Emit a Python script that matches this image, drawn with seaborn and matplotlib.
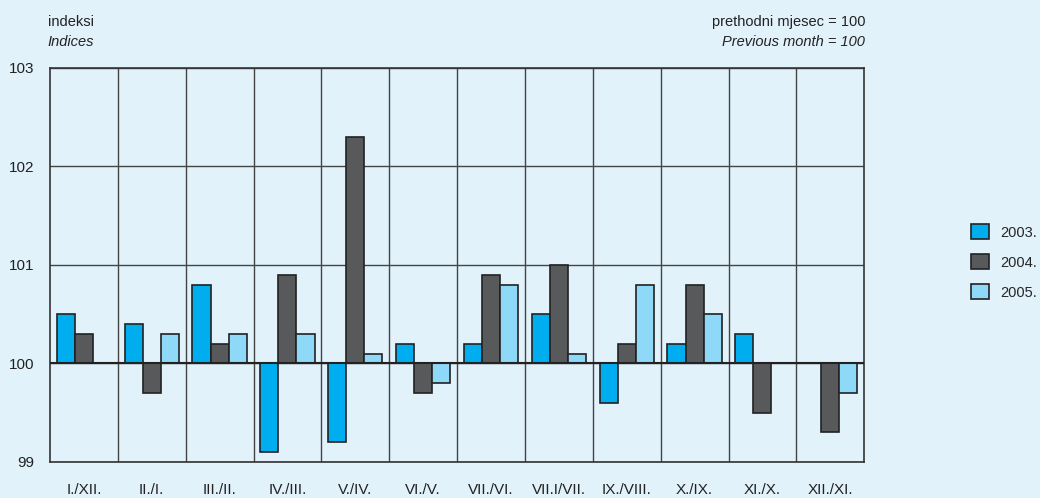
import numpy as np
import pandas as pd
import matplotlib
matplotlib.use("Agg")
import matplotlib.pyplot as plt
import seaborn as sns

months = ["I./XII.", "II./I.", "III./II.", "IV./III.", "V./IV.", "VI./V.",
          "VII./VI.", "VII.I/VII.", "IX./VIII.", "X./IX.", "XI./X.", "XII./XI."]
years = ["2003.", "2004.", "2005."]
idx_2003 = [100.5, 100.4, 100.8, 99.1, 99.2, 100.2, 100.2, 100.5, 99.6, 100.2, 100.3, np.nan]
idx_2004 = [100.3, 99.7, 100.2, 100.9, 102.3, 99.7, 100.9, 101.0, 100.2, 100.8, 99.5, 99.3]
idx_2005 = [np.nan, 100.3, 100.3, 100.3, 100.1, 99.8, 100.8, 100.1, 100.8, 100.5, np.nan, 99.7]
colors = ["#00aeef", "#58595b", "#8ed8f8"]
bg = "#e1f2fb"

df = pd.DataFrame({"month": months * 3,
                   "year": np.repeat(years, len(months)),
                   "index": idx_2003 + idx_2004 + idx_2005})
df["dev"] = df["index"] - 100  # bars start at 100

sns.set_style("white")
plt.rcParams["font.family"] = ["Liberation Sans", "DejaVu Sans"]

fig = plt.figure(figsize=(10.4, 4.98), dpi=100, facecolor=bg)
ax = fig.add_axes([0.048, 0.0723, 0.783, 0.7912])
ax.set_facecolor(bg)

sns.barplot(data=df, x="month", y="dev", hue="year", palette=colors, saturation=1,
            edgecolor="#222222", linewidth=1.2, width=0.8, ax=ax, zorder=3)

ax.set_ylim(-1, 3)
ax.set_xlim(-0.5, len(months) - 0.5)
ax.set_yticks([-1, 0, 1, 2, 3])
ax.set_yticklabels(["99", "100", "101", "102", "103"])
ax.set_xticks(np.arange(len(months) - 1) + 0.5, minor=True)
ax.grid(True, which="minor", axis="x", color="#444444", linewidth=1)
ax.grid(True, which="major", axis="y", color="#444444", linewidth=1)
ax.axhline(0, color="#222222", linewidth=1.5, zorder=4)
ax.set_axisbelow(True)
for s in ax.spines.values():
    s.set_color("#333333")
    s.set_linewidth(1.2)

ax.tick_params(axis="both", which="both", length=0, labelsize=11, colors="#222222")
ax.tick_params(axis="x", pad=15)
ax.tick_params(axis="y", pad=11)
ax.set_xlabel("")
ax.set_ylabel("")

fig.text(0.046, 0.955, "indeksi", fontsize=10.5, color="#222222", va="center")
fig.text(0.046, 0.915, "Indices", fontsize=10.5, style="italic", color="#222222", va="center")
fig.text(0.832, 0.955, "prethodni mjesec = 100", fontsize=10.5, color="#222222",
         ha="right", va="center")
fig.text(0.832, 0.915, "Previous month = 100", fontsize=10.5, style="italic",
         color="#222222", ha="right", va="center")

ax.legend(loc="center left", bbox_to_anchor=(1.1155, 0.508), frameon=False,
          fontsize=10.5, handlelength=1.2, handleheight=1.2, labelspacing=1.0,
          handletextpad=0.75)

fig.savefig("out.png", dpi=100, facecolor=bg)
